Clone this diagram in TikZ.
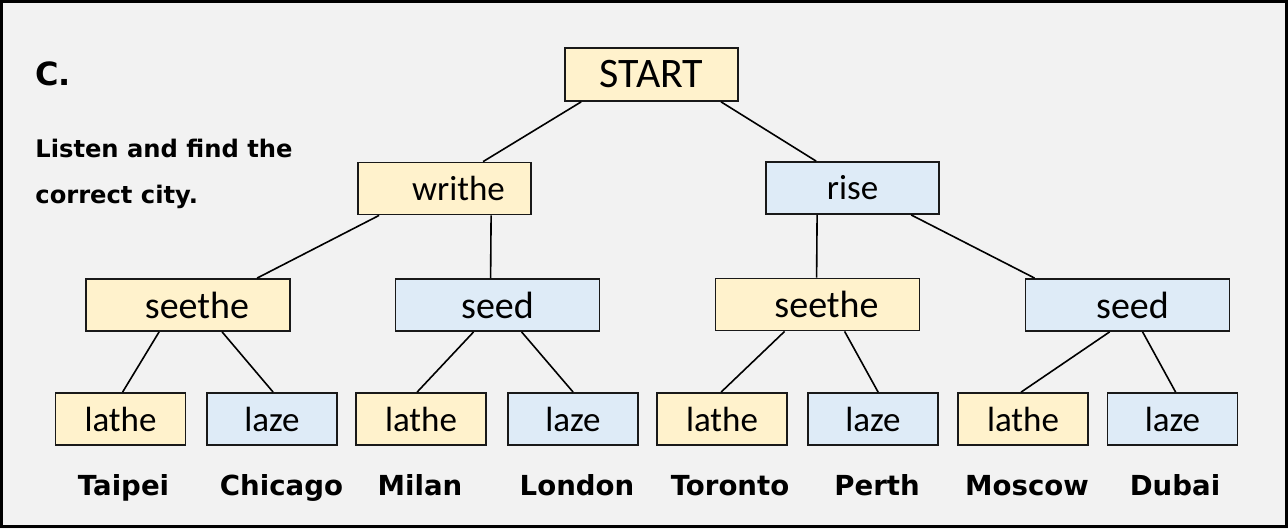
\documentclass[tikz,border=0pt]{standalone}
\usepackage{fontspec}
\setmainfont{Carlito}
\newfontfamily\cityfont{DejaVu Sans}
\usetikzlibrary{calc}

\definecolor{bggray}{HTML}{F2F2F2}
\definecolor{wordyel}{HTML}{FFF2CC}
\definecolor{wordblu}{HTML}{DEEBF7}

\begin{document}
\begin{tikzpicture}[
  x=0.5pt, y=-0.5pt,
  box/.style={draw=black!90, line width=0.9pt, inner sep=0pt, minimum height=26pt, font=\fontsize{17.5}{20}\selectfont},
  yel/.style={box, fill=wordyel},
  blu/.style={box, fill=wordblu},
  upperbox/.style={minimum width=86.5pt},
  midbox/.style={minimum width=102pt, font=\fontsize{19}{22}\selectfont},
  leafbox/.style={minimum width=65pt},
  city/.style={anchor=base, inner sep=0pt, font=\cityfont\bfseries\fontsize{13.8}{16}\selectfont},
  link/.style={line width=0.8pt}
]
\useasboundingbox (0,0) rectangle (1288,529);
\fill[bggray] (0,0) rectangle (1288,529);
\draw[line width=1.5pt] (1.5,1.5) rectangle (1286.5,526.5);

% heading
\node[anchor=base west, inner sep=0pt, font=\cityfont\bfseries\fontsize{16}{18}\selectfont] (part) at (35,86) {C.};
\node[anchor=north west, align=left, inner sep=0pt, font=\cityfont\bfseries\fontsize{12.1}{23}\selectfont] (task) at (35,139)
  {Listen and find the\\correct city.};

% tree
\node[yel, upperbox, minimum height=26.5pt, font=\fontsize{21}{24}\selectfont] (start) at (651.5,74.5) {START};
\node[yel, upperbox] (writhe) at (444.5,188.5) {\hspace*{14pt}writhe};
\node[blu, upperbox] (rise) at (852.5,188) {rise};
\node[yel, midbox] (seetheL) at (188,305) {\hspace*{9pt}seethe};
\node[blu, midbox] (seedL) at (497.5,305) {seed};
\node[yel, midbox] (seetheR) at (817.5,304.5) {\hspace*{9pt}seethe};
\node[blu, midbox] (seedR) at (1127.5,305) {\hspace*{5pt}seed};
\node[yel, leafbox] (latheA) at (120.5,419) {lathe};
\node[blu, leafbox] (lazeA) at (272,419) {laze};
\node[yel, leafbox] (latheB) at (421,419) {lathe};
\node[blu, leafbox] (lazeB) at (573,419) {laze};
\node[yel, leafbox] (latheC) at (722,419) {lathe};
\node[blu, leafbox] (lazeC) at (873,419) {laze};
\node[yel, leafbox] (latheD) at (1023,419) {lathe};
\node[blu, leafbox] (lazeD) at (1172.5,419) {laze};

% cities
\node[city] (taipei) at (123.5,495) {Taipei};
\node[city] (chicago) at (281.5,495) {Chicago};
\node[city] (milan) at (420,495) {Milan};
\node[city] (london) at (577,495) {London};
\node[city] (toronto) at (730,495) {Toronto};
\node[city] (perth) at (877,495) {Perth};
\node[city] (moscow) at (1027,495) {Moscow};
\node[city] (dubai) at (1175,495) {Dubai};

% branches
\draw[link] ($(start.south west)+(17,0)$) -- ($(writhe.north west)+(126,0)$);
\draw[link] ($(start.south west)+(157,0)$) -- ($(rise.north west)+(51,0)$);
\draw[link] ($(writhe.south west)+(22,0)$) -- ($(seetheL.north west)+(172,0)$);
\draw[link] ($(writhe.south west)+(134,0)$) -- ($(seedL.north west)+(96,0)$);
\draw[link] ($(rise.south west)+(52,0)$) -- ($(seetheR.north west)+(102,0)$);
\draw[link] ($(rise.south west)+(146,0)$) -- ($(seedR.north west)+(10,0)$);
\draw[link] ($(seetheL.south west)+(74,0)$) -- ($(latheA.north west)+(68,0)$);
\draw[link] ($(seetheL.south west)+(137,0)$) -- ($(lazeA.north west)+(67,0)$);
\draw[link] ($(seedL.south west)+(79,0)$) -- ($(latheB.north west)+(62,0)$);
\draw[link] ($(seedL.south west)+(127,0)$) -- ($(lazeB.north west)+(66,0)$);
\draw[link] ($(seetheR.south west)+(70,0)$) -- ($(latheC.north west)+(65,0)$);
\draw[link] ($(seetheR.south west)+(130,0)$) -- ($(lazeC.north west)+(71,0)$);
\draw[link] ($(seedR.south west)+(85,0)$) -- ($(latheD.north west)+(64,0)$);
\draw[link] ($(seedR.south west)+(118,0)$) -- ($(lazeD.north west)+(69,0)$);
\end{tikzpicture}
\end{document}
